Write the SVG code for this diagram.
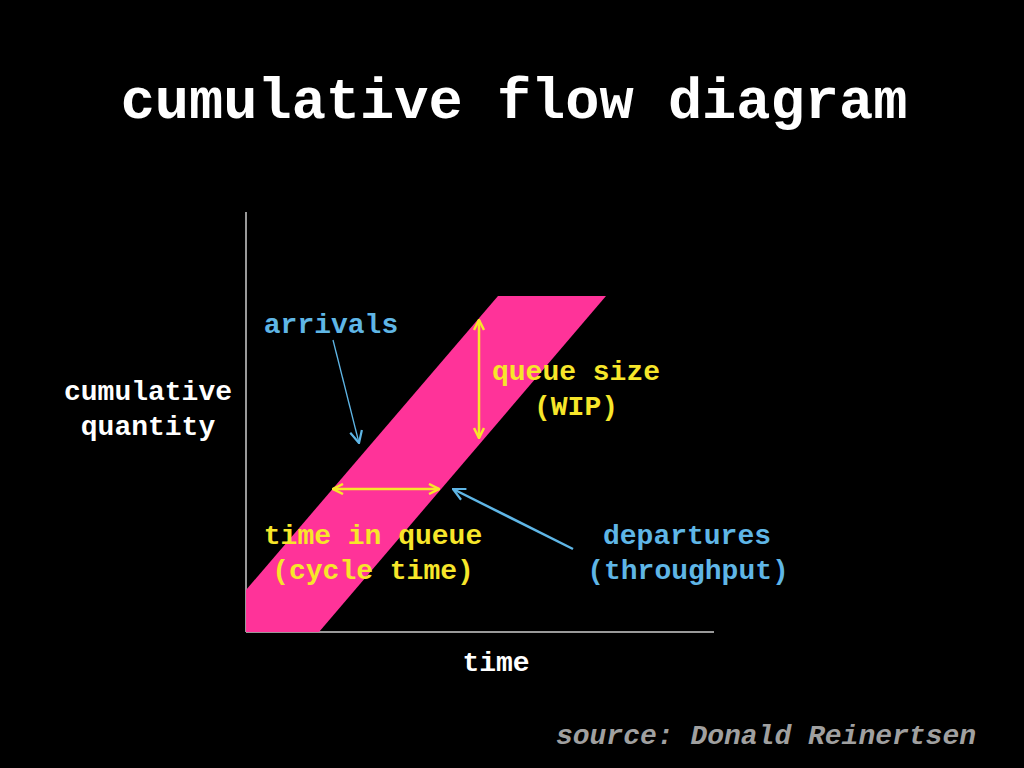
<svg xmlns="http://www.w3.org/2000/svg" width="1024" height="768" viewBox="0 0 1024 768">
<defs>
<style>
text{font-family:"Liberation Mono","Courier New",monospace;font-weight:bold;}
.w{fill:#ffffff;font-size:28px;}
.b{fill:#5fb6e6;font-size:28px;}
.y{fill:#f7e62a;font-size:28px;}
.yl{stroke:#f7e62a;stroke-width:2.5;fill:none;}
.bl{stroke:#5fb6e6;fill:none;}
</style>
<marker id="ya" viewBox="0 0 12 12" refX="11" refY="6" markerWidth="12" markerHeight="12" markerUnits="userSpaceOnUse" orient="auto-start-reverse">
<path d="M1,1 L11,6 L1,11" fill="none" stroke="#f7e62a" stroke-width="2.5"/>
</marker>
<marker id="ba" viewBox="0 0 14 14" refX="13" refY="7" markerWidth="14" markerHeight="14" markerUnits="userSpaceOnUse" orient="auto">
<path d="M1,1 L13,7 L1,13" fill="none" stroke="#5fb6e6" stroke-width="2.2"/>
</marker>
</defs>
<rect width="1024" height="768" fill="#000000"/>
<text x="514" y="118" text-anchor="middle" style="font-size:57px;fill:#ffffff">cumulative flow diagram</text>
<g id="axes" stroke="#cccccc" stroke-width="1.5">
<line x1="246" y1="212" x2="246" y2="632"/>
<line x1="246" y1="632" x2="714" y2="632"/>
</g>
<g id="band">
<polygon points="498,296 606,296 319,632 246,632 246,590" fill="#ff3399"/>
</g>
<g id="labels">
<text class="w" x="148" y="400" text-anchor="middle">cumulative</text>
<text class="w" x="148" y="435" text-anchor="middle">quantity</text>
<text class="b" x="331" y="333" text-anchor="middle">arrivals</text>
<text class="y" x="576" y="380" text-anchor="middle">queue size</text>
<text class="y" x="576" y="415" text-anchor="middle">(WIP)</text>
<text class="y" x="373" y="544" text-anchor="middle">time in queue</text>
<text class="y" x="373" y="579" text-anchor="middle">(cycle time)</text>
<text class="b" x="687" y="544" text-anchor="middle">departures</text>
<text class="b" x="688" y="579" text-anchor="middle">(throughput)</text>
<text class="w" x="496" y="671" text-anchor="middle">time</text>
<text x="766" y="744" text-anchor="middle" style="font-size:28px;font-style:italic;fill:#a0a0a0">source: Donald Reinertsen</text>
</g>
<g id="connectors">
<line class="yl" x1="479" y1="320" x2="479" y2="438" marker-start="url(#ya)" marker-end="url(#ya)"/>
<line class="yl" x1="333" y1="489" x2="439" y2="489" marker-start="url(#ya)" marker-end="url(#ya)"/>
<line class="bl" stroke-width="1.3" x1="333" y1="340" x2="359" y2="443" marker-end="url(#ba)"/>
<line class="bl" stroke-width="2.5" x1="573" y1="549" x2="453" y2="489" marker-end="url(#ba)"/>
</g>
</svg>
